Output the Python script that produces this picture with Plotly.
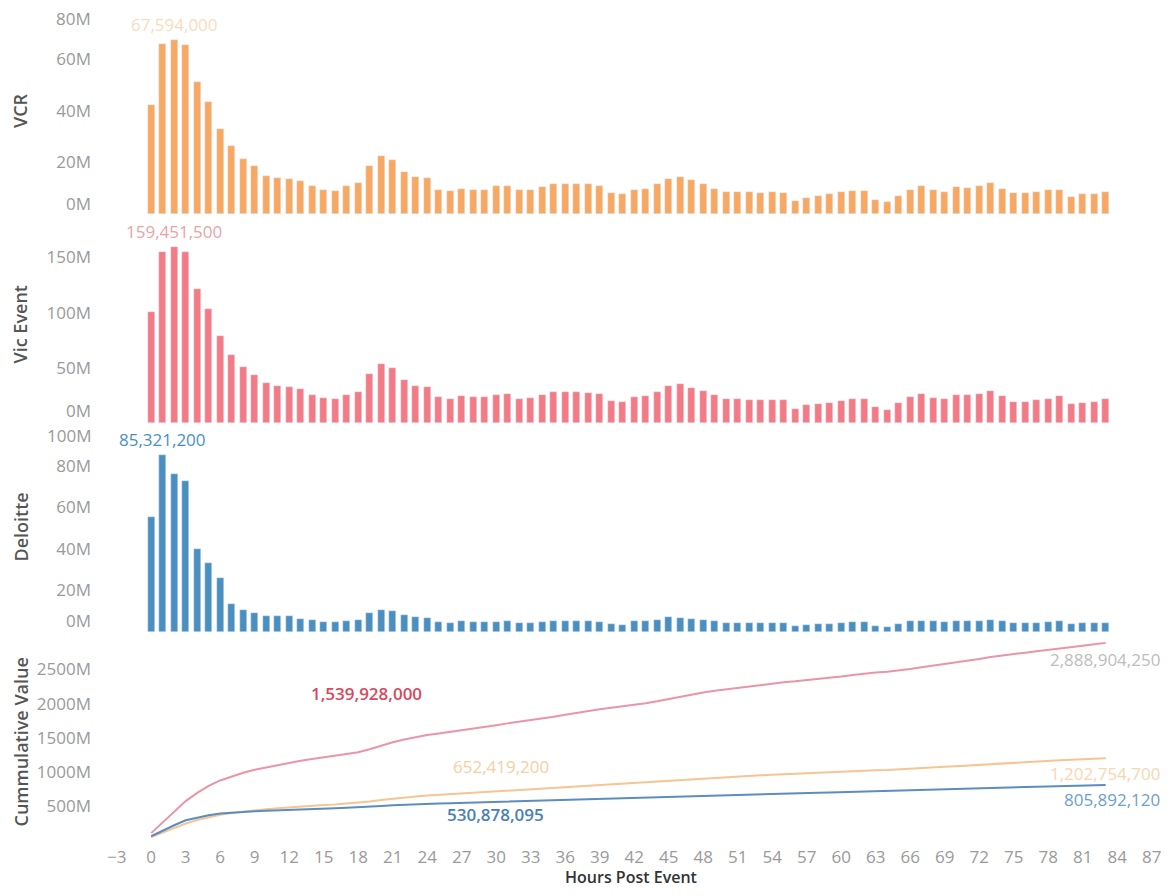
import numpy as np
import plotly.graph_objects as go

hours = list(range(0, 84))

vcr = [42.3, 66.1, 67.594, 65.7, 51.1, 43.6, 33.2, 26.6, 21.4, 18.8,
       14.9, 14.0, 13.6, 13.0, 11.0, 9.4, 9.1, 10.7, 12.0, 18.8,
       22.4, 20.8, 16.5, 14.3, 13.9, 9.4, 8.8, 9.8, 9.5, 9.5,
       10.7, 10.8, 9.2, 9.2, 10.5, 11.5, 11.8, 11.8, 11.5, 10.8,
       8.2, 7.6, 9.2, 9.8, 11.5, 13.7, 14.4, 13.1, 11.5, 9.9,
       8.6, 8.6, 8.6, 8.2, 8.6, 8.2, 5.0, 6.3, 6.9, 7.6,
       8.6, 8.9, 8.9, 5.6, 4.7, 6.9, 9.3, 10.8, 9.3, 8.6,
       10.5, 10.2, 10.8, 11.9, 9.8, 8.0, 8.0, 8.6, 9.2, 9.5,
       6.7, 7.6, 7.6, 8.5]

vic = [100.8, 155.2, 159.4515, 154.9, 121.0, 102.9, 78.7, 62.0, 50.5, 43.9,
       35.8, 33.7, 32.8, 31.0, 25.4, 22.4, 21.8, 25.4, 28.4, 44.5,
       53.6, 49.9, 39.0, 33.9, 33.0, 23.3, 22.1, 24.8, 23.9, 23.9,
       25.7, 26.3, 22.1, 23.0, 25.7, 27.8, 28.4, 28.1, 27.5, 26.0,
       19.7, 18.7, 23.6, 24.5, 28.1, 33.6, 35.1, 31.8, 29.0, 25.1,
       21.5, 21.5, 21.2, 20.6, 20.6, 20.6, 12.4, 16.0, 16.9, 18.1,
       20.0, 21.8, 21.8, 14.5, 12.1, 17.8, 23.3, 26.0, 23.0, 21.8,
       25.1, 25.1, 26.0, 28.7, 24.2, 19.4, 19.4, 20.6, 22.1, 24.2,
       17.2, 18.4, 19.1, 21.5]

deloitte = [55.2, 85.3212, 76.0, 72.9, 39.8, 33.3, 26.2, 13.4, 10.6, 9.3,
            7.9, 7.6, 7.6, 6.4, 5.6, 4.8, 4.7, 5.5, 6.0, 9.2,
            10.8, 10.3, 8.4, 7.1, 6.8, 4.6, 4.1, 5.1, 4.6, 4.6,
            4.9, 5.2, 4.1, 4.4, 4.9, 5.4, 5.5, 5.5, 5.4, 4.9,
            3.8, 3.5, 5.1, 5.4, 5.9, 7.1, 6.8, 6.3, 5.9, 5.1,
            4.2, 4.2, 4.2, 4.2, 4.2, 4.2, 2.8, 3.4, 3.8, 3.9,
            4.2, 4.6, 4.6, 3.1, 2.6, 3.8, 5.1, 5.5, 5.1, 4.7,
            5.4, 5.2, 5.5, 6.0, 5.1, 4.2, 4.2, 4.4, 4.7, 5.1,
            3.8, 4.1, 4.1, 4.4]

vcr_ticks = [0, 20, 40, 60, 80]
vic_ticks = [0, 50, 100, 150]
del_ticks = [0, 20, 40, 60, 80, 100]
cum_ticks = [500, 1000, 1500, 2000, 2500]
x_ticks = list(range(-3, 88, 3))

peak_labels = ["67,594,000", "159,451,500", "85,321,200"]
mid_labels = ["652,419,200", "1,539,928,000", "530,878,095"]
end_labels = ["1,202,754,700", "2,888,904,250", "805,892,120"]

C_VCR = "#F7A862"
C_VIC = "#F27B86"
C_DEL = "#4A8FC0"
L_VCR = "#F7C493"
L_VIC = "#E995A6"
L_DEL = "#5B8DBE"

cum_vcr = np.cumsum(vcr)
cum_vic = np.cumsum(vic)
cum_del = np.cumsum(deloitte)

FONT = "Open Sans"
TICK = dict(family=FONT, size=17, color="#9a9a9a")

fig = go.Figure()
fig.add_trace(go.Bar(x=hours, y=vcr, marker_color=C_VCR, width=0.6, xaxis="x", yaxis="y", name="VCR"))
fig.add_trace(go.Bar(x=hours, y=vic, marker_color=C_VIC, width=0.6, xaxis="x2", yaxis="y2", name="Vic Event"))
fig.add_trace(go.Bar(x=hours, y=deloitte, marker_color=C_DEL, width=0.6, xaxis="x3", yaxis="y3", name="Deloitte"))
fig.add_trace(go.Scatter(x=hours, y=cum_vic, mode="lines", line=dict(color=L_VIC, width=2), xaxis="x4", yaxis="y4"))
fig.add_trace(go.Scatter(x=hours, y=cum_vcr, mode="lines", line=dict(color=L_VCR, width=2), xaxis="x4", yaxis="y4"))
fig.add_trace(go.Scatter(x=hours, y=cum_del, mode="lines", line=dict(color=L_DEL, width=2), xaxis="x4", yaxis="y4"))

# the page shows the figure 8px in from the window edges
PAD = 8
FIG_W, FIG_H = 1170 - 2 * PAD, 896 - 2 * PAD
PLOT_TOP, PLOT_BOT = PAD, 845          # window pixels
PLOT_L = 100                           # window pixel
PLOT_W = FIG_W - (PLOT_L - PAD)
H = PLOT_BOT - PLOT_TOP
PX_PER_HOUR = 11.5
X0 = -4.45

def dom(top_px, bot_px):
    top_px = max(top_px, PLOT_TOP)
    return [(PLOT_BOT - bot_px) / H, (PLOT_BOT - top_px) / H]

xr = [X0, X0 + PLOT_W / PX_PER_HOUR]
xcommon = dict(range=xr, showgrid=False, zeroline=False, showline=False, ticks="",
               fixedrange=True, automargin=False)

def mlabel(v):
    return f"{v}M"

def yax(domain, rng, tickvals):
    return dict(domain=domain, range=rng, tickvals=tickvals, ticktext=[mlabel(v) for v in tickvals],
                showgrid=False, zeroline=False, showline=False, ticks="", automargin=False,
                tickfont=TICK, ticklabelstandoff=8)

D1, D2, D3, D4 = dom(PLOT_TOP, 214), dom(226, 423), dom(423, 632), dom(640, 845)

fig.update_layout(
    width=FIG_W, height=FIG_H,
    margin=dict(l=PLOT_L - PAD, r=0, t=PLOT_TOP - PAD, b=(PAD + FIG_H) - PLOT_BOT, autoexpand=False),
    paper_bgcolor="white", plot_bgcolor="white",
    showlegend=False, bargap=0,
    font=dict(family=FONT),
    xaxis=dict(**xcommon, anchor="y", showticklabels=False),
    xaxis2=dict(**xcommon, anchor="y2", showticklabels=False, matches="x"),
    xaxis3=dict(**xcommon, anchor="y3", showticklabels=False, matches="x"),
    xaxis4=dict(**xcommon, anchor="y4", matches="x", tickvals=x_ticks, tickfont=TICK,
                ticklabeloverflow="allow",
                title=dict(text="Hours Post Event",
                           font=dict(family=FONT, size=16, color="#333", weight=600), standoff=6)),
    yaxis=yax(D1, [0, (214 - PLOT_TOP) / 2.575], vcr_ticks[1:-1]),
    yaxis2=yax(D2, [0, (423 - 226) / 1.104], vic_ticks[1:]),
    yaxis3=yax(D3, [0, (632 - 423) / 2.075], del_ticks[1:-1]),
    yaxis4=yax(D4, [-5 / 0.0682, (840 - 640) / 0.0682], cum_ticks),
)

anns = []
# edge tick labels nudged inside their pane, as in the reference
edge = [("y", vcr_ticks[0], 11), ("y", vcr_ticks[-1], -10),
        ("y2", vic_ticks[0], 13),
        ("y3", del_ticks[0], 12), ("y3", del_ticks[-1], -11)]
for ya, v, sh in edge:
    anns.append(dict(text=mlabel(v), xref="paper", x=0, xanchor="right", xshift=-7,
                     yref=ya, y=v, yanchor="middle", yshift=sh, showarrow=False,
                     font=TICK))

# y-axis titles
for txt, d in [("VCR", D1), ("Vic Event", D2), ("Deloitte", D3), ("Cummulative Value", D4)]:
    anns.append(dict(text=txt, xref="paper", yref="paper", x=(20 - PLOT_L) / PLOT_W, y=(d[0] + d[1]) / 2,
                     textangle=-90, showarrow=False, xanchor="center", yanchor="middle",
                     font=dict(family=FONT, size=18, color="#555", weight=600)))

# peak labels
peaks = [(vcr, "x", "y", peak_labels[0], "#F8DCC0"),
         (vic, "x2", "y2", peak_labels[1], "#E9A3A9"),
         (deloitte, "x3", "y3", peak_labels[2], "#4A8FC0")]
for arr, xa, ya, txt, col in peaks:
    i = int(np.argmax(arr))
    anns.append(dict(text=txt, x=hours[i], y=arr[i], xref=xa, yref=ya, showarrow=False,
                     yanchor="bottom", yshift=2, font=dict(family=FONT, size=17, color=col)))

# cumulative labels
mid_pos = [(30.4, 1085, mid_labels[0], "#F5CFA3", 400),
           (18.7, 2155, mid_labels[1], "#D9485F", 600),
           (29.9, 367, mid_labels[2], "#4A7FB5", 600)]
for xv, yv, txt, col, w in mid_pos:
    anns.append(dict(text=txt, x=xv, y=yv, xref="x4", yref="y4", showarrow=False,
                     font=dict(family=FONT, size=17, color=col, weight=w)))
end_pos = [(982, end_labels[0], "#F8D6B2"),
           (2640, end_labels[1], "#BDBDBD"),
           (587, end_labels[2], "#6E9FCB")]
for yv, txt, col in end_pos:
    anns.append(dict(text=txt, xref="paper", x=1, xanchor="right", y=yv, yref="y4", showarrow=False,
                     font=dict(family=FONT, size=17, color=col)))

fig.update_layout(annotations=anns)
fig.write_html("out.html")
